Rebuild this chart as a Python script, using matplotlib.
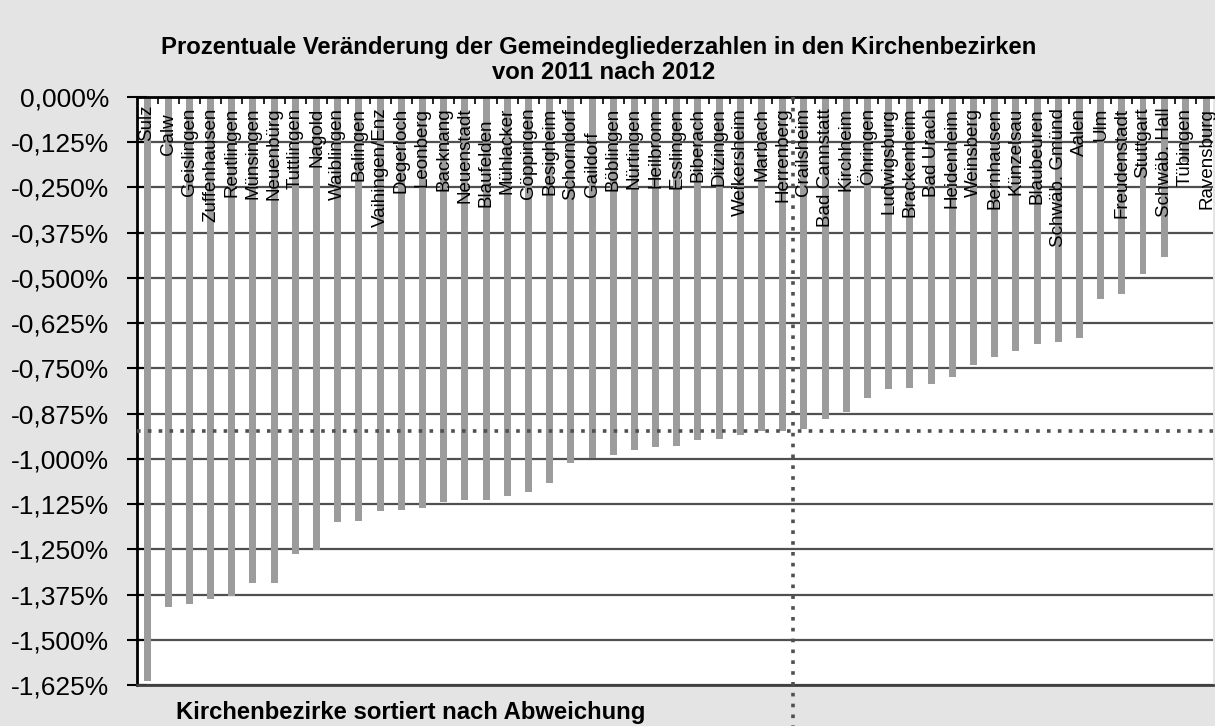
import matplotlib
matplotlib.use("Agg")
import matplotlib.pyplot as plt
from matplotlib import font_manager
from matplotlib.ticker import FixedLocator, FuncFormatter

# Kirchenbezirke, sortiert nach Abweichung (Werte in %)
bezirke = ['Sulz', 'Calw', 'Geislingen', 'Zuffenhausen', 'Reutlingen', 'Münsingen',
           'Neuenbürg', 'Tuttlingen', 'Nagold', 'Waiblingen', 'Balingen', 'Vaihingen/Enz',
           'Degerloch', 'Leonberg', 'Backnang', 'Neuenstadt', 'Blaufelden', 'Mühlacker',
           'Göppingen', 'Besigheim', 'Schorndorf', 'Gaildorf', 'Böblingen', 'Nürtingen',
           'Heilbronn', 'Esslingen', 'Biberach', 'Ditzingen', 'Weikersheim', 'Marbach',
           'Herrenberg', 'Crailsheim', 'Bad Cannstatt', 'Kirchheim', 'Öhringen',
           'Ludwigsburg', 'Brackenheim', 'Bad Urach', 'Heidenheim', 'Weinsberg',
           'Bernhausen', 'Künzelsau', 'Blaubeuren', 'Schwäb. Gmünd', 'Aalen', 'Ulm',
           'Freudenstadt', 'Stuttgart', 'Schwäb. Hall', 'Tübingen', 'Ravensburg']
veraenderung = [-1.615, -1.409, -1.400, -1.388, -1.378, -1.343,
                -1.343, -1.262, -1.253, -1.175, -1.173, -1.144,
                -1.142, -1.137, -1.118, -1.114, -1.113, -1.103,
                -1.093, -1.067, -1.012, -0.999, -0.990, -0.976,
                -0.966, -0.964, -0.948, -0.946, -0.933, -0.924,
                -0.923, -0.919, -0.891, -0.872, -0.831,
                -0.806, -0.804, -0.793, -0.775, -0.742,
                -0.719, -0.701, -0.684, -0.677, -0.665, -0.559,
                -0.545, -0.490, -0.441, -0.180, -0.120]
durchschnitt = -0.923      # gepunktete Linie (Mittelwert)
median_pos = 30.5          # zwischen Herrenberg und Crailsheim
yticks = [0, -0.125, -0.25, -0.375, -0.5, -0.625, -0.75, -0.875,
          -1.0, -1.125, -1.25, -1.375, -1.5, -1.625]

names = {f.name for f in font_manager.fontManager.ttflist}
narrow = 'Liberation Sans Narrow' if 'Liberation Sans Narrow' in names else 'Liberation Sans'
is_narrow = narrow != 'Liberation Sans'
plt.rcParams['font.family'] = ['Liberation Sans', 'DejaVu Sans']

bg = '#e4e4e4'
fig = plt.figure(figsize=(12.15, 7.26), dpi=100, facecolor=bg)
ax = fig.add_axes([0.1128, 0.0565, 0.8855, 0.81])
ax.set_facecolor('white')

x = list(range(len(bezirke)))
ax.bar(x, veraenderung, width=0.33, color='#9c9c9c', zorder=2)

# Beschriftungen an der Nulllinie
label_top = {'Sulz': -0.02, 'Calw': -0.045, 'Gaildorf': -0.095, 'Blaufelden': -0.06}
lab_size = 16 if is_narrow else 13.5
for i, name in enumerate(bezirke):
    ax.text(i, label_top.get(name, -0.03), name, rotation=90, ha='center', va='top',
            fontsize=lab_size, family=[narrow, 'DejaVu Sans'], color='black', zorder=4)

ax.set_ylim(-1.625, 0)
ax.set_xlim(-0.47, len(bezirke) - 0.7)
ax.yaxis.set_major_locator(FixedLocator(yticks))
ax.yaxis.set_major_formatter(FuncFormatter(lambda v, p: f'{v:.3f}%'.replace('.', ',')))
ax.grid(axis='y', color='#505050', linewidth=1.6, zorder=1)
ax.tick_params(axis='y', direction='inout', length=14, width=1.5, pad=13,
               labelsize=19, colors='black')

ax.xaxis.set_ticks_position('top')
ax.set_xticks([i + 0.5 for i in x[:-1]])
ax.set_xticklabels([])
ax.tick_params(axis='x', direction='in', length=5, width=1.2, color='black')

for s in ['top', 'left']:
    ax.spines[s].set_linewidth(2)
    ax.spines[s].set_color('black')
ax.spines['bottom'].set_linewidth(2)
ax.spines['bottom'].set_color('#404040')
ax.spines['right'].set_visible(False)

ax.axhline(durchschnitt, color='#505050', linestyle=(0, (1, 2)), linewidth=2.6, zorder=3)
ax.plot([median_pos, median_pos], [0, -1.75], color='#505050', linestyle=(0, (1, 2)),
        linewidth=2.6, zorder=3, clip_on=False)

title_size = 19 if is_narrow else 17.2
fig.text(0.493, 0.935, 'Prozentuale Veränderung der Gemeindegliederzahlen in den Kirchenbezirken',
         ha='center', va='center', fontsize=title_size, fontweight='bold',
         family=[narrow, 'DejaVu Sans'])
fig.text(0.497, 0.900, 'von 2011 nach 2012', ha='center', va='center', fontsize=title_size,
         fontweight='bold', family=[narrow, 'DejaVu Sans'])
fig.text(0.338, 0.019, 'Kirchenbezirke sortiert nach Abweichung', ha='center', va='center',
         fontsize=title_size, fontweight='bold', family=[narrow, 'DejaVu Sans'])

fig.savefig('out.png', dpi=100, facecolor=bg)
